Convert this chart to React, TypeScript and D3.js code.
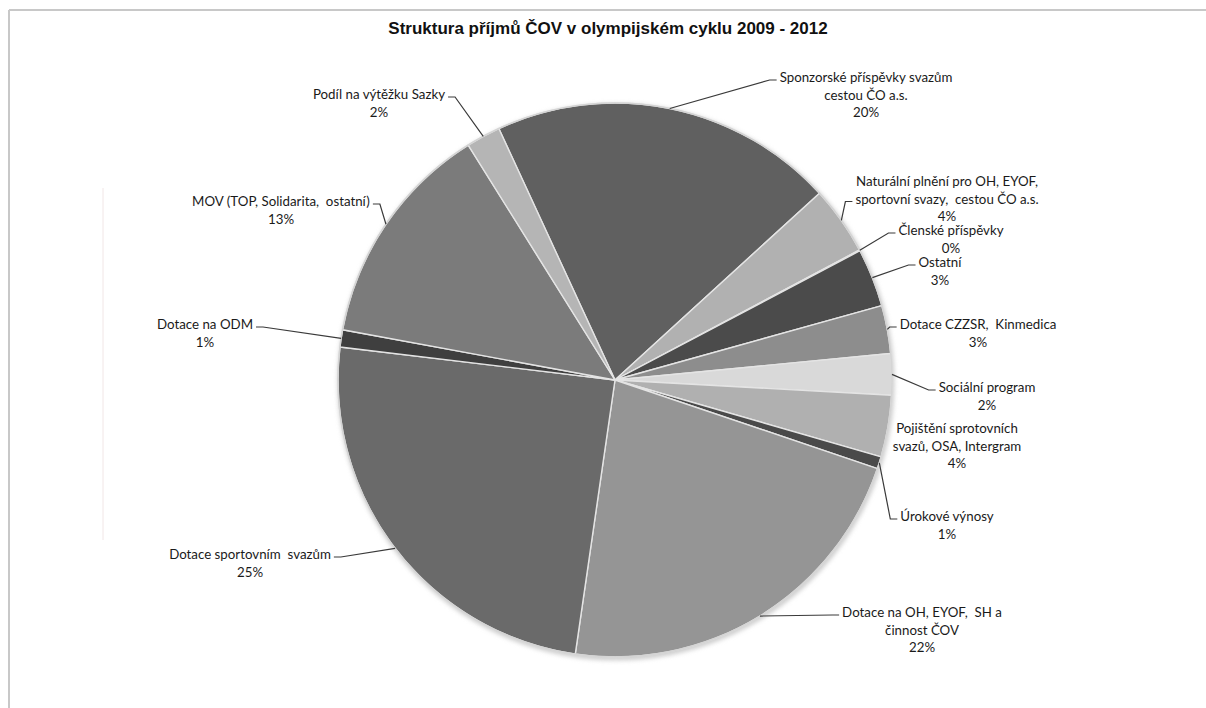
import React, { useEffect, useRef } from 'react';
import * as d3 from 'd3';

// ---- data ----
const categories: string[][] = [
  ['Sponzorské příspěvky svazům', 'cestou ČO a.s.'],
  ['Naturální plnění pro OH, EYOF,', 'sportovní svazy,  cestou ČO a.s.'],
  ['Členské příspěvky'],
  ['Ostatní'],
  ['Dotace CZZSR,  Kinmedica'],
  ['Sociální program'],
  ['Pojištění sprotovních', 'svazů, OSA, Intergram'],
  ['Úrokové výnosy'],
  ['Dotace na OH, EYOF,  SH a', 'činnost ČOV'],
  ['Dotace sportovním  svazům'],
  ['Dotace na ODM'],
  ['MOV (TOP, Solidarita,  ostatní)'],
  ['Podíl na výtěžku Sazky'],
];
const values: number[] = [20.1, 4.0, 0.05, 3.4, 2.8, 2.4, 3.6, 0.7, 22.1, 24.6, 1.0, 13.2, 2.0];
const colors: string[] = [
  '#606060', '#b1b1b1', '#9a9a9a', '#4b4b4b', '#8d8d8d', '#d9d9d9', '#b0b0b0',
  '#4a4a4a', '#959595', '#6a6a6a', '#3f3f3f', '#7b7b7b', '#b5b5b5',
];
const title = 'Struktura příjmů ČOV v olympijském cyklu 2009 - 2012';

// ---- label layout: [centre x, first line y, leader side ('L' = leader on left of text, 'R' = right, '' = none), attach line] ----
const labelLayout: [number, number, string, number][] = [
  [866, 79, 'L', 0],
  [947, 183, 'L', 1],
  [951, 232, 'L', 0],
  [940, 264, 'L', 0],
  [978, 326, 'L', 0],
  [987, 389, 'L', 0],
  [957, 430, '', 0],
  [947, 518, 'L', 0],
  [922, 614, 'L', 0],
  [250, 556, 'R', 0],
  [205, 326, 'R', 0],
  [281, 203, 'R', 0],
  [379, 96, 'R', 0],
];

const W = 1206;
const H = 708;
const CX = 615;
const CY = 380;
const R = 277;
const START = (-24.8 * Math.PI) / 180;
const LINE_H = 17.5;

export default function App() {
  const ref = useRef<SVGSVGElement | null>(null);

  useEffect(() => {
    document.body.style.margin = '0';
    const svg = d3.select(ref.current);
    svg.selectAll('*').remove();

    const defs = svg.append('defs');
    const f = defs.append('filter').attr('id', 'sh').attr('x', '-10%').attr('y', '-10%').attr('width', '120%').attr('height', '120%');
    f.append('feGaussianBlur').attr('stdDeviation', 2);

    // frame
    svg.append('line').attr('x1', 9).attr('y1', 10).attr('x2', W).attr('y2', 10)
      .attr('stroke', '#c8c8c8').attr('stroke-width', 2);
    svg.append('line').attr('x1', 9).attr('y1', 10).attr('x2', 9).attr('y2', H)
      .attr('stroke', '#c8c8c8').attr('stroke-width', 2);
    svg.append('line').attr('x1', 103).attr('y1', 188).attr('x2', 103).attr('y2', 540)
      .attr('stroke', '#f1e6e6').attr('stroke-width', 1);

    // title
    svg.append('text').attr('x', 608).attr('y', 30)
      .attr('text-anchor', 'middle').attr('dominant-baseline', 'middle')
      .attr('font-family', '"Liberation Sans", Arial, sans-serif')
      .attr('font-weight', 'bold').attr('font-size', 17).attr('fill', '#111')
      .text(title);

    const g = svg.append('g').attr('transform', `translate(${CX},${CY})`);
    g.append('circle').attr('cx', 1).attr('cy', 2).attr('r', R + 1.5)
      .attr('fill', '#cfcfcf').attr('filter', 'url(#sh)');

    const pie = d3.pie<number>().sort(null).value((d) => d)
      .startAngle(START).endAngle(START + Math.PI * 2);
    const arcs = pie(values);
    const arc = d3.arc<d3.PieArcDatum<number>>().innerRadius(0).outerRadius(R);

    g.selectAll('path.slice').data(arcs).enter().append('path')
      .attr('class', 'slice')
      .attr('d', arc as any)
      .attr('fill', (_d, i) => colors[i])
      .attr('stroke', '#e4e4e4').attr('stroke-width', 1.4).attr('stroke-linejoin', 'round');

    g.append('circle').attr('r', R).attr('fill', 'none')
      .attr('stroke', '#d4d4d4').attr('stroke-width', 1.5);

    const total = d3.sum(values);
    const lg = svg.append('g')
      .attr('font-family', 'Lato, "Open Sans", sans-serif')
      .attr('font-size', 13.3).attr('fill', '#1a1a1a');

    arcs.forEach((a, i) => {
      const [lx, ly, side, attach] = labelLayout[i];
      const lines = [...categories[i], `${Math.round((values[i] / total) * 100)}%`];
      const widths: number[] = [];
      lines.forEach((t, k) => {
        const tx = lg.append('text').attr('x', lx).attr('y', ly + k * LINE_H)
          .attr('text-anchor', 'middle').attr('dominant-baseline', 'middle')
          .attr('xml:space', 'preserve').style('white-space', 'pre').text(t);
        widths.push((tx.node() as SVGTextElement).getComputedTextLength());
      });
      if (!side) return;
      const mid = (a.startAngle + a.endAngle) / 2;
      const px = CX + R * Math.sin(mid);
      const py = CY - R * Math.cos(mid);
      const ay = ly + attach * LINE_H + 1;
      const w = widths[attach];
      const ex = side === 'L' ? lx - w / 2 - 3 : lx + w / 2 + 3;
      const bx = side === 'L' ? ex - 7 : ex + 7;
      svg.append('polyline')
        .attr('points', `${px},${py} ${bx},${ay} ${ex},${ay}`)
        .attr('fill', 'none').attr('stroke', '#3a3a3a').attr('stroke-width', 1.2);
    });
  }, []);

  return <svg ref={ref} width={W} height={H} style={{ display: 'block', background: '#fff' }} />;
}
